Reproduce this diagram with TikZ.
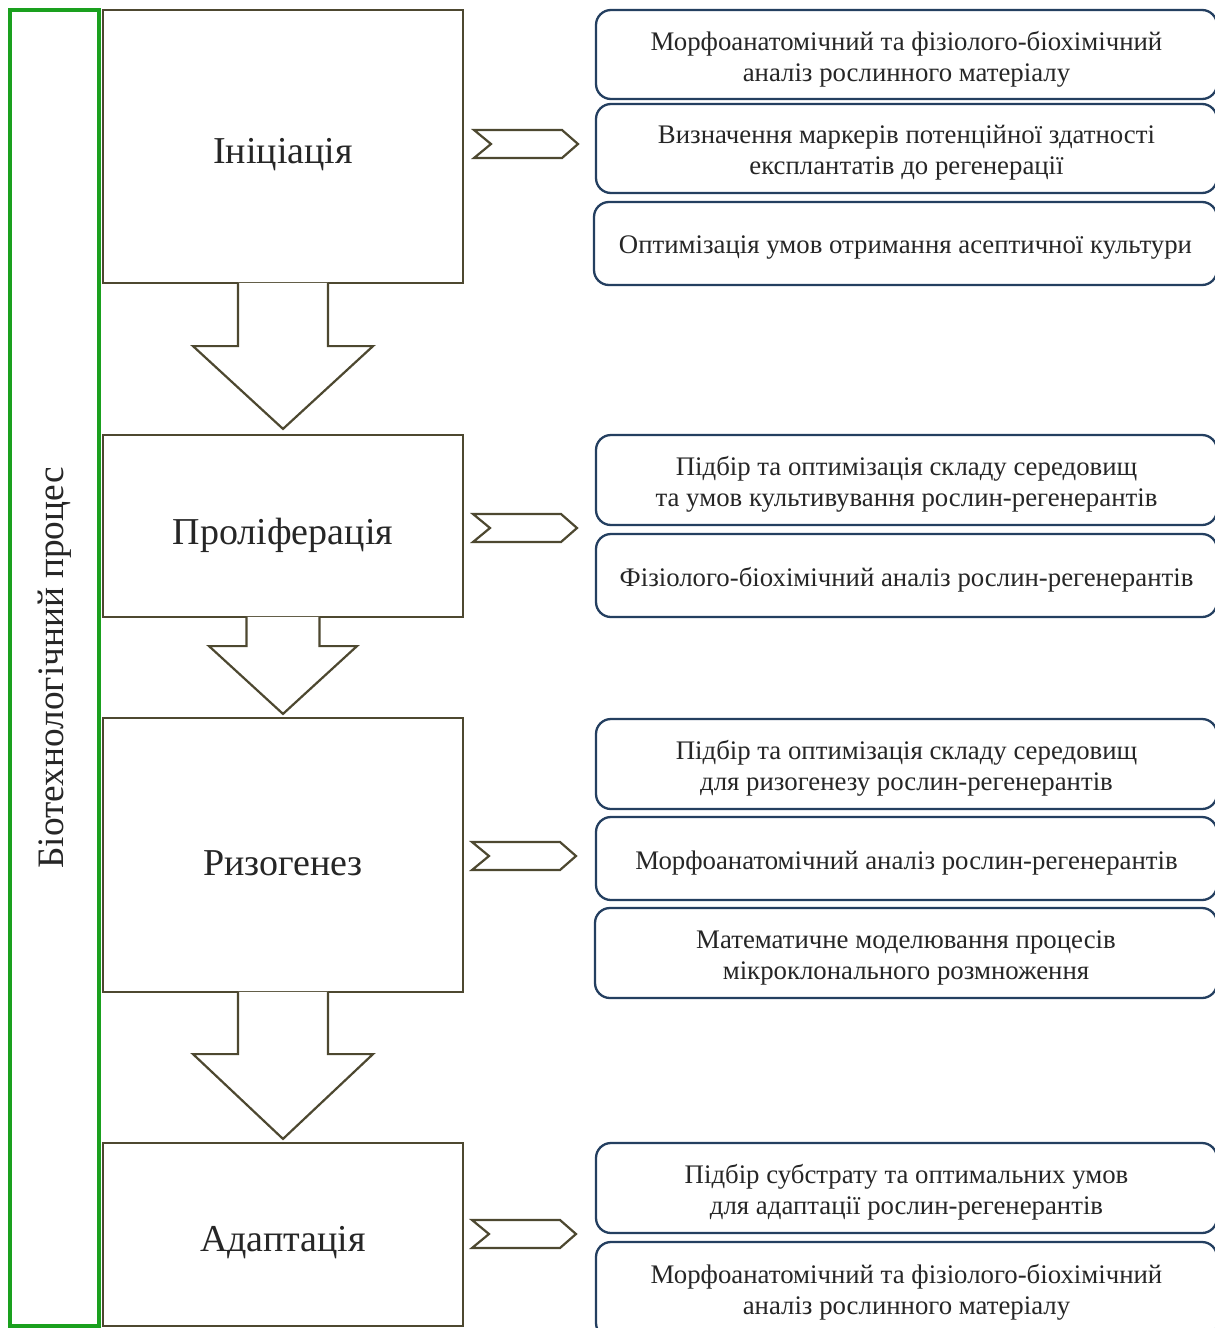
\documentclass[tikz,border=0pt]{standalone}
\usepackage{fontspec}
\setmainfont{Liberation Serif}
\usetikzlibrary{calc}
\definecolor{stageline}{HTML}{4D4830}
\definecolor{taskline}{HTML}{243F60}
\definecolor{bioline}{HTML}{1AA01E}
\definecolor{txt}{HTML}{262626}
\tikzset{
  stagebox/.style={draw=stageline, line width=2.2pt, minimum width=360pt, inner sep=0pt},
  stagetext/.style={font=\fontsize{38}{44}\selectfont, text=txt, inner sep=0pt, yshift=-8.5pt},
  taskbox/.style={draw=taskline, line width=2.3pt, rounded corners=15pt, minimum width=621pt, inner sep=0pt},
  tasktext/.style={font=\fontsize{26.8}{31}\selectfont, text=txt, align=center, inner sep=0pt, yshift=-4.5pt},
  chev/.style={draw=stageline, line width=2.2pt, line join=miter},
  blockarrow/.style={draw=stageline, line width=2.2pt, fill=white, line join=miter},
  biobox/.style={draw=bioline, line width=4pt, rotate=90, minimum width=1316pt, minimum height=89pt, inner sep=0pt,
    font=\fontsize{37.3}{44}\selectfont, text=txt}
}
\begin{document}
\begin{tikzpicture}[x=1pt,y=-1pt]
\useasboundingbox (0,0) rectangle (1215,1328);
\clip (0,0) rectangle (1215,1328);
\fill[white] (0,0) rectangle (1215,1328);

% left green frame with vertical title
\node[biobox] (bio) at (54.5,668) {Біотехнологічний процес};

% stage boxes
\node[stagebox, minimum height=273pt] (s1) at (283,146.5) {};
\node[stagebox, minimum height=182pt] (s2) at (283,526) {};
\node[stagebox, minimum height=274pt] (s3) at (283,855) {};
\node[stagebox, minimum height=183pt] (s4) at (283,1234.5) {};
\node[stagetext] (s1t) at (s1.center) {Ініціація};
\node[stagetext] (s2t) at ($(s2.center)+(0,1)$) {Проліферація};
\node[stagetext] (s3t) at (s3.center) {Ризогенез};
\node[stagetext] (s4t) at (s4.center) {Адаптація};

% block arrows between stages
\draw[blockarrow] ($(s1.south)+(-45,-1.2)$) -- ++(0,63.2) -- ++(-45,0) -- ($(s2.north)+(0,-5)$)
  -- ($(s1.south)+(90,62)$) -- ++(-45,0) -- ++(0,-63.2);
\draw[blockarrow] ($(s2.south)+(-36.5,-1.2)$) -- ++(0,29.2) -- ++(-37.5,0) -- ($(s3.north)+(0,-3)$)
  -- ($(s2.south)+(74,28)$) -- ++(-37.5,0) -- ++(0,-29.2);
\draw[blockarrow] ($(s3.south)+(-45,-1.2)$) -- ++(0,62.2) -- ++(-45,0) -- ($(s4.north)+(0,-3)$)
  -- ($(s3.south)+(90,61)$) -- ++(-45,0) -- ++(0,-62.2);

% chevrons
\coordinate (c1) at (474,144);
\coordinate (c2) at (473,528);
\coordinate (c3) at (472,856);
\coordinate (c4) at (472,1234);
\foreach \c in {c1,c2,c3,c4}{
  \draw[chev] (\c) ++(0,-14) -- ++(88,0) -- ++(16,14) -- ++(-16,14) -- ++(-88,0) -- ++(17,-14) -- cycle;
}

% task boxes
\node[taskbox, minimum height=89pt] (t1) at (906.5,54.5) {};
\node[taskbox, minimum height=89pt] (t2) at (906.5,148.5) {};
\node[taskbox, minimum height=83pt, minimum width=623pt] (t3) at (905.5,243.5) {};
\node[taskbox, minimum height=90pt] (t4) at (906.5,480) {};
\node[taskbox, minimum height=83pt] (t5) at (906.5,575.5) {};
\node[taskbox, minimum height=90pt] (t6) at (906.5,764) {};
\node[taskbox, minimum height=83pt] (t7) at (906.5,858.5) {};
\node[taskbox, minimum height=90pt, minimum width=622pt] (t8) at (906,953) {};
\node[taskbox, minimum height=90pt] (t9) at (906.5,1188) {};
\node[taskbox, minimum height=96pt] (t10) at (906.5,1290) {};

\node[tasktext] (t1t) at (t1.center) {Морфоанатомічний та фізіолого-біохімічний\\аналіз рослинного матеріалу};
\node[tasktext] (t2t) at (t2.center) {Визначення маркерів потенційної здатності\\експлантатів до регенерації};
\node[tasktext] (t3t) at (t3.center) {Оптимізація умов отримання асептичної культури};
\node[tasktext] (t4t) at (t4.center) {Підбір та оптимізація складу середовищ\\та умов культивування рослин-регенерантів};
\node[tasktext] (t5t) at (t5.center) {Фізіолого-біохімічний аналіз рослин-регенерантів};
\node[tasktext] (t6t) at (t6.center) {Підбір та оптимізація складу середовищ\\для ризогенезу рослин-регенерантів};
\node[tasktext] (t7t) at (t7.center) {Морфоанатомічний аналіз рослин-регенерантів};
\node[tasktext] (t8t) at (t8.center) {Математичне моделювання процесів\\мікроклонального розмноження};
\node[tasktext] (t9t) at (t9.center) {Підбір субстрату та оптимальних умов\\для адаптації рослин-регенерантів};
\node[tasktext] (t10t) at ($(t10.center)+(0,-2)$) {Морфоанатомічний та фізіолого-біохімічний\\аналіз рослинного матеріалу};
\end{tikzpicture}
\end{document}
